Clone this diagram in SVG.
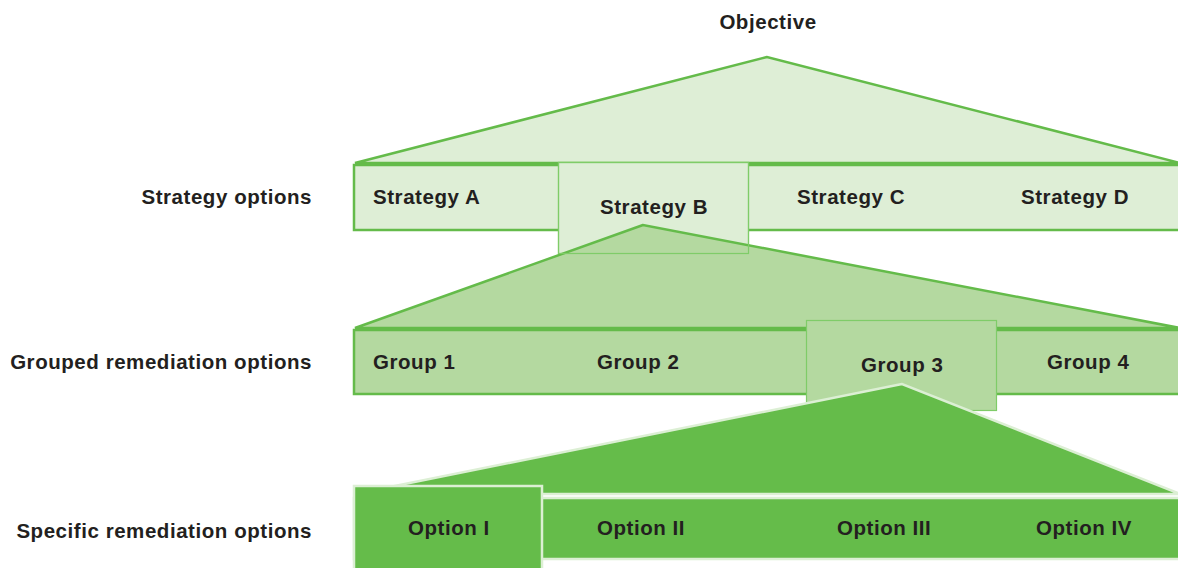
<svg xmlns="http://www.w3.org/2000/svg" width="1178" height="568" viewBox="0 0 1178 568">
  <style>
    .lbl { font-family: "Liberation Sans", Arial, sans-serif; font-weight: bold; font-size: 20.5px; letter-spacing: 0.55px; fill: #231f20; }
    .side { text-anchor: end; }
    .mid { text-anchor: middle; }
    .l1 { fill: #deeed6; stroke: #64bb4a; stroke-width: 2.5; }
    .l1box { fill: #deeed6; stroke: #7fcc68; stroke-width: 1.2; }
    .l2 { fill: #b4d9a0; stroke: #64bb4a; stroke-width: 2.5; }
    .l2box { fill: #b4d9a0; stroke: #7fcc68; stroke-width: 1.2; }
    .l3 { fill: #65bc4a; stroke: #dcefd4; stroke-width: 2.5; }
  </style>
  <rect width="1178" height="568" fill="#ffffff"/>

  <!-- row labels -->
  <g id="row-labels">
    <text class="lbl side" x="312" y="204">Strategy options</text>
    <text class="lbl side" x="312" y="369">Grouped remediation options</text>
    <text class="lbl side" x="312" y="538">Specific remediation options</text>
  </g>

  <g id="objective">
    <text class="lbl mid" x="768" y="29">Objective</text>
  </g>

  <!-- fan-out shapes from each chosen element to the level below -->
  <g id="connectors">
    <polygon id="fan-objective" class="l1" points="767,57 355,163 1180,163"/>
  </g>

  <!-- strategy level -->
  <g id="strategy-bar">
    <rect class="l1" x="354" y="165" width="830" height="65"/>
  </g>
  <g id="strategy-a"><text class="lbl" x="373" y="204">Strategy A</text></g>
  <g id="strategy-c"><text class="lbl" x="797" y="204">Strategy C</text></g>
  <g id="strategy-d"><text class="lbl" x="1021" y="204">Strategy D</text></g>
  <g id="strategy-b">
    <rect class="l1box" x="558.5" y="162.5" width="190" height="91"/>
    <text class="lbl" x="600" y="214">Strategy B</text>
  </g>

  <g id="fan-strategy-b">
    <polygon class="l2" points="643,225 355,328 1180,328"/>
    <rect class="l1box" x="558.5" y="162.5" width="190" height="91" style="fill:none"/>
  </g>

  <!-- group level -->
  <g id="group-bar">
    <rect class="l2" x="354" y="330" width="830" height="64"/>
  </g>
  <g id="group-1"><text class="lbl" x="373" y="369">Group 1</text></g>
  <g id="group-2"><text class="lbl" x="597" y="369">Group 2</text></g>
  <g id="group-4"><text class="lbl" x="1047" y="369">Group 4</text></g>
  <g id="group-3">
    <rect class="l2box" x="806.5" y="320.5" width="190" height="90"/>
    <text class="lbl" x="861" y="372">Group 3</text>
  </g>

  <g id="fan-group-3">
    <polygon class="l3" points="902,384 355,494 1180,494"/>
  </g>

  <!-- specific option level -->
  <g id="option-bar">
    <rect class="l3" x="354" y="498" width="830" height="61"/>
  </g>
  <g id="option-2"><text class="lbl" x="597" y="535">Option II</text></g>
  <g id="option-3"><text class="lbl" x="837" y="535">Option III</text></g>
  <g id="option-4"><text class="lbl" x="1036" y="535">Option IV</text></g>
  <g id="option-1">
    <rect class="l3" x="354" y="486" width="188" height="90"/>
    <text class="lbl" x="408" y="535">Option I</text>
  </g>
</svg>
